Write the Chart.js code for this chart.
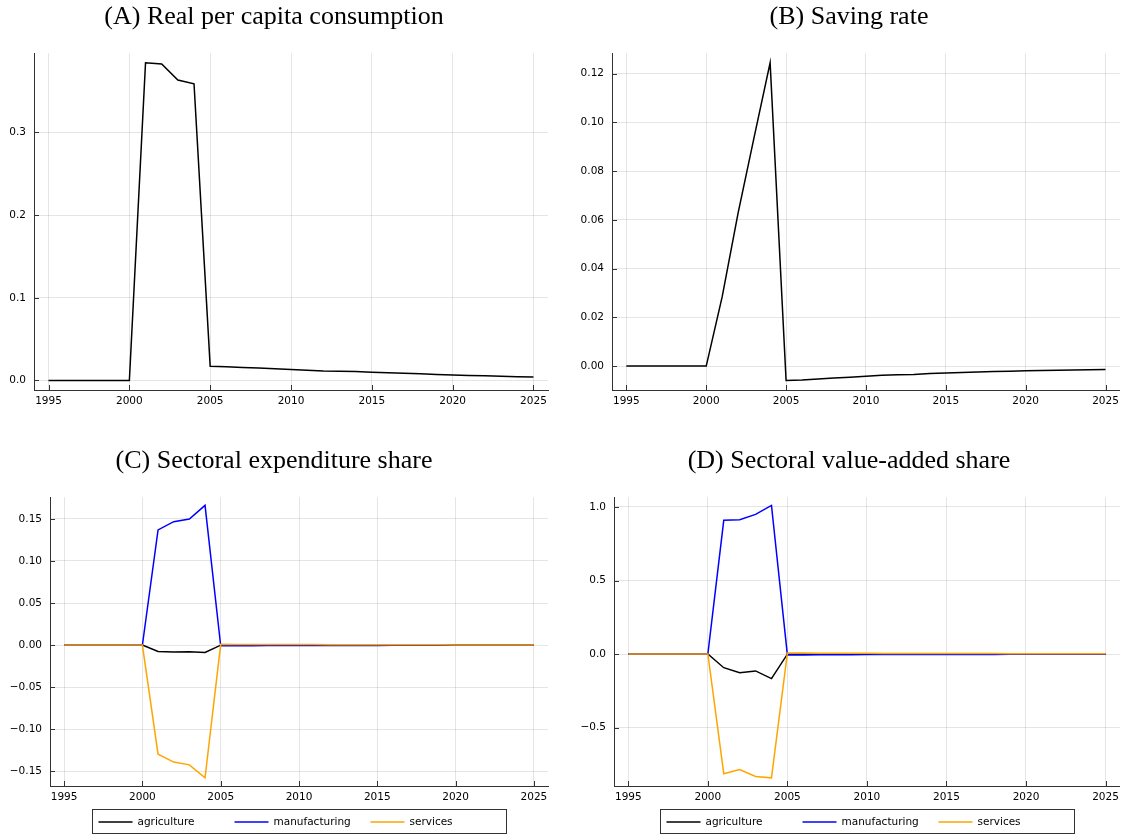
<!DOCTYPE html>
<html>
<head>
<meta charset="utf-8">
<title>Responses to a temporary shock</title>
<script src="https://cdn.jsdelivr.net/npm/chart.js@4.4.1/dist/chart.umd.min.js"></script>
<style>
  body { margin: 0; background: #fff; }
  #panel { position: relative; width: 1124px; height: 837px; }
  canvas { position: absolute; }
</style>
</head>
<body>
<div id="panel">
  <canvas id="chartA" width="560" height="410" style="left:0px;top:0px"></canvas>
  <canvas id="chartB" width="546" height="410" style="left:578px;top:0px"></canvas>
  <canvas id="chartC" width="560" height="393" style="left:0px;top:444px"></canvas>
  <canvas id="chartD" width="546" height="393" style="left:578px;top:444px"></canvas>
</div>
<script>
const years = [1995, 1996, 1997, 1998, 1999, 2000, 2001, 2002, 2003, 2004, 2005, 2006, 2007, 2008, 2009, 2010,
    2011, 2012, 2013, 2014, 2015, 2016, 2017, 2018, 2019, 2020, 2021, 2022, 2023, 2024, 2025];
const yearTicks = [1995, 2000, 2005, 2010, 2015, 2020, 2025];

// (A) real per capita consumption
const consumption = [0, 0, 0, 0, 0, 0, 0.3843, 0.3827, 0.3633, 0.3589,
    0.0173, 0.0165, 0.0158, 0.0150, 0.0141, 0.0132, 0.0125, 0.0115, 0.0113, 0.0107, 0.0099,
    0.0093, 0.0087, 0.0080, 0.0073, 0.0066, 0.0061, 0.0056, 0.0051, 0.0046, 0.0041];
const consumptionTicks = [0, 0.1, 0.2, 0.3];

// (B) saving rate
const savingRate = [0, 0, 0, 0, 0, 0, 0.0285, 0.0630, 0.0940, 0.1245,
    -0.0059, -0.0057, -0.0053, -0.0049, -0.0046, -0.0042, -0.0038, -0.0036, -0.0034, -0.0030, -0.0028,
    -0.0026, -0.0024, -0.0022, -0.0021, -0.0019, -0.0018, -0.0017, -0.0016, -0.0015, -0.0014];
const savingTicks = [0, 0.02, 0.04, 0.06, 0.08, 0.10, 0.12];

// (C) sectoral expenditure share
const expAgriculture = [0, 0, 0, 0, 0, 0, -0.0075, -0.0083, -0.0080, -0.0087,
    -0.0001, -0.0001, -0.0001, -0.0001, -0.0001, -0.0001, -0.0001, 0, 0, 0, 0,
    0, 0, 0, 0, 0, 0, 0, 0, 0, 0];
const expManufacturing = [0, 0, 0, 0, 0, 0, 0.1368, 0.1466, 0.1498, 0.1660,
    -0.0008, -0.0007, -0.0007, -0.0006, -0.0006, -0.0005, -0.0005, -0.0005, -0.0004, -0.0004, -0.0004,
    -0.0003, -0.0003, -0.0003, -0.0003, -0.0002, -0.0002, -0.0002, -0.0002, -0.0002, -0.0001];
const expServices = [0, 0, 0, 0, 0, 0, -0.1296, -0.1390, -0.1423, -0.1577,
    0.0009, 0.0008, 0.0008, 0.0007, 0.0007, 0.0006, 0.0006, 0.0005, 0.0004, 0.0004, 0.0004,
    0.0003, 0.0003, 0.0003, 0.0003, 0.0002, 0.0002, 0.0002, 0.0002, 0.0002, 0.0001];
const expTicks = [-0.15, -0.10, -0.05, 0, 0.05, 0.10, 0.15];

// (D) sectoral value-added share
const vaAgriculture = [0, 0, 0, 0, 0, 0, -0.093, -0.127, -0.115, -0.167,
    -0.001, -0.001, -0.001, -0.001, -0.001, -0.001, 0, 0, 0, 0, 0,
    0, 0, 0, 0, 0, 0, 0, 0, 0, 0];
const vaManufacturing = [0, 0, 0, 0, 0, 0, 0.9095, 0.914, 0.950, 1.011,
    -0.006, -0.006, -0.005, -0.005, -0.005, -0.004, -0.004, -0.004, -0.004, -0.003, -0.003,
    -0.003, -0.003, -0.003, -0.002, -0.002, -0.002, -0.002, -0.002, -0.002, -0.002];
const vaServices = [0, 0, 0, 0, 0, 0, -0.814, -0.785, -0.833, -0.842,
    0.007, 0.007, 0.006, 0.006, 0.005, 0.005, 0.004, 0.004, 0.004, 0.003, 0.003,
    0.003, 0.003, 0.003, 0.002, 0.002, 0.002, 0.002, 0.002, 0.002, 0.002];
const vaTicks = [-0.5, 0, 0.5, 1.0];

const sectorNames = ['agriculture', 'manufacturing', 'services'];
const sectorColors = ['#000000', '#0000ff', '#ffa500'];

const tickFont = { family: 'DejaVu Sans', size: 10.5 };
const gridColor = 'rgba(0, 0, 0, 0.1)';

// 3% margin around the data, like the original plotting library
function paddedRange(series) {
    const all = series.flat();
    const lo = Math.min(...all);
    const hi = Math.max(...all);
    const pad = (hi - lo) * 0.03;
    return { min: lo - pad, max: hi + pad };
}

function formatTick(decimals) {
    return (value) => {
        const text = Math.abs(value).toFixed(decimals);
        return value < -1e-9 ? '\u2212' + text : text;
    };
}

function toPoints(values) {
    return values.map((v, i) => ({ x: years[i], y: v }));
}

// short tick marks pointing into the plot area
const innerTicks = {
    id: 'innerTicks',
    afterDraw(chart) {
        const ctx = chart.ctx;
        const xScale = chart.scales.x;
        const yScale = chart.scales.y;
        const area = chart.chartArea;
        ctx.save();
        ctx.strokeStyle = '#333';
        ctx.lineWidth = 1;
        ctx.beginPath();
        xScale.ticks.forEach(t => {
            const px = Math.round(xScale.getPixelForValue(t.value)) + 0.5;
            ctx.moveTo(px, area.bottom);
            ctx.lineTo(px, area.bottom - 5);
        });
        yScale.ticks.forEach(t => {
            const py = Math.round(yScale.getPixelForValue(t.value)) + 0.5;
            ctx.moveTo(area.left, py);
            ctx.lineTo(area.left + 5, py);
        });
        ctx.stroke();
        ctx.restore();
    }
};

// framed legend under the plot, one column per series
const legendBox = {
    id: 'legendBox',
    afterDraw(chart) {
        const area = chart.chartArea;
        const ctx = chart.ctx;
        const boxWidth = 414;
        const boxHeight = 24;
        const left = Math.round((area.left + area.right) / 2 - boxWidth / 2) + 0.5;
        const top = Math.round(area.bottom) + 23 + 0.5;
        ctx.save();
        ctx.strokeStyle = '#333';
        ctx.lineWidth = 1;
        ctx.strokeRect(left, top, boxWidth, boxHeight);
        ctx.font = '10.5px "DejaVu Sans"';
        ctx.textBaseline = 'middle';
        chart.data.datasets.forEach((ds, i) => {
            const x = left + 6 + i * 136;
            const y = Math.round(top + boxHeight / 2);
            ctx.strokeStyle = ds.borderColor;
            ctx.lineWidth = 1.5;
            ctx.beginPath();
            ctx.moveTo(x, y);
            ctx.lineTo(x + 34, y);
            ctx.stroke();
            ctx.fillStyle = '#000';
            ctx.fillText(ds.label, x + 39, y + 0.5);
        });
        ctx.restore();
    }
};

function makeChart(id, title, series, labels, yTicks, decimals, axisWidth, padRight, padBottom, withLegend) {
    const range = paddedRange(series);
    const datasets = series.map((values, i) => ({
        label: labels[i],
        data: toPoints(values),
        borderColor: labels.length > 1 ? sectorColors[i] : '#000000',
        borderWidth: 1.5,
        pointRadius: 0,
        tension: 0,
        fill: false,
        order: series.length - i
    }));

    return new Chart(document.getElementById(id), {
        type: 'line',
        data: { datasets: datasets },
        options: {
            responsive: false,
            animation: false,
            events: [],
            layout: { padding: { left: 0, right: padRight, top: 0, bottom: padBottom } },
            plugins: {
                legend: { display: false },
                tooltip: { enabled: false },
                title: {
                    display: true,
                    text: title,
                    color: '#000',
                    font: { family: 'Liberation Serif', size: 26, weight: 'normal' },
                    padding: { top: 2, bottom: 20 }
                }
            },
            scales: {
                x: {
                    type: 'linear',
                    min: 1994.1,
                    max: 2025.9,
                    afterBuildTicks: (scale) => { scale.ticks = yearTicks.map(v => ({ value: v })); },
                    afterFit: (scale) => { scale.height = 20; },
                    ticks: {
                        font: tickFont,
                        color: '#000',
                        padding: 5,
                        maxRotation: 0,
                        autoSkip: false,
                        callback: (v) => String(v)
                    },
                    grid: { color: gridColor, drawTicks: false },
                    border: { color: '#333', width: 1 }
                },
                y: {
                    type: 'linear',
                    min: range.min,
                    max: range.max,
                    afterBuildTicks: (scale) => { scale.ticks = yTicks.map(v => ({ value: v })); },
                    afterFit: (scale) => { scale.width = axisWidth; },
                    ticks: {
                        font: tickFont,
                        color: '#000',
                        padding: 8,
                        callback: formatTick(decimals)
                    },
                    grid: { color: gridColor, drawTicks: false },
                    border: { color: '#333', width: 1 }
                }
            }
        },
        plugins: withLegend ? [innerTicks, legendBox] : [innerTicks]
    });
}

document.addEventListener('DOMContentLoaded', () => {
    makeChart('chartA', '(A) Real per capita consumption', [consumption], ['consumption'],
        consumptionTicks, 1, 34, 12, 0, false);
    makeChart('chartB', '(B) Saving rate', [savingRate], ['saving rate'],
        savingTicks, 2, 34, 4, 0, false);
    makeChart('chartC', '(C) Sectoral expenditure share', [expAgriculture, expManufacturing, expServices],
        sectorNames, expTicks, 2, 50, 12, 31, true);
    makeChart('chartD', '(D) Sectoral value-added share', [vaAgriculture, vaManufacturing, vaServices],
        sectorNames, vaTicks, 1, 36, 4, 31, true);
});
</script>
</body>
</html>
